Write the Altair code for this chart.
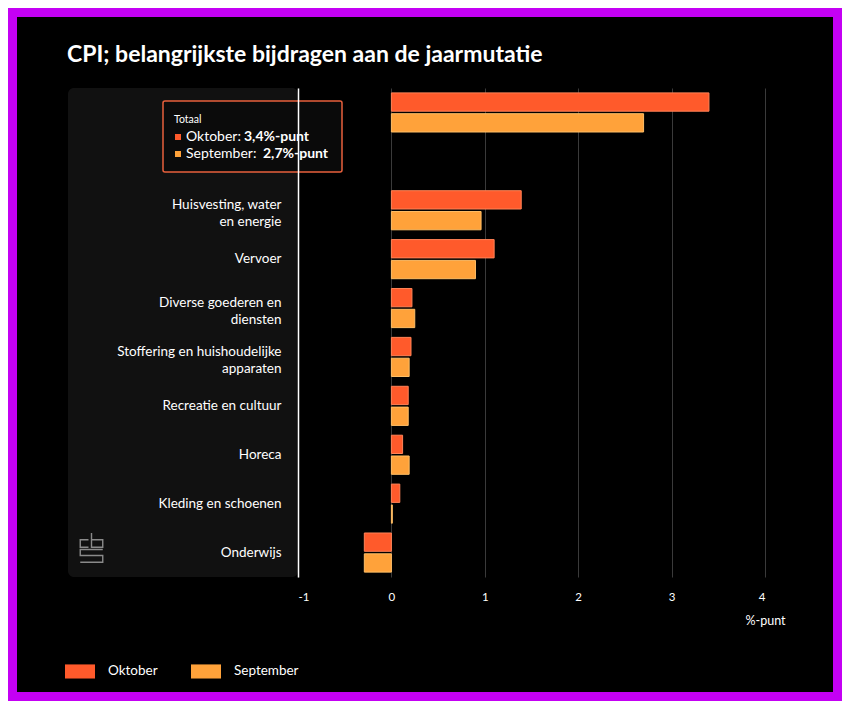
import altair as alt
import pandas as pd

# ---------------- data ----------------
title_text = "CPI; belangrijkste bijdragen aan de jaarmutatie"
categories = ["Totaal", " ", "Huisvesting, water|en energie", "Vervoer",
              "Diverse goederen en|diensten", "Stoffering en huishoudelijke|apparaten",
              "Recreatie en cultuur", "Horeca", "Kleding en schoenen", "Onderwijs"]
series = ["Oktober", "September"]
oktober = [3.4, None, 1.39, 1.1, 0.22, 0.21, 0.18, 0.12, 0.09, -0.29]
september = [2.7, None, 0.96, 0.9, 0.25, 0.19, 0.18, 0.19, 0.01, -0.29]
x_ticks = [-1, 0, 1, 2, 3, 4]
x_title = "%-punt"

# ---------------- style ----------------
FONT = "Lato"
colors = ["#FF5A2B", "#FFA23A"]
strokes = ["#FF8357", "#FFBE66"]
PURPLE = "#C400F4"
W, H = 467, 489

rows = []
for c, o, s in zip(categories, oktober, september):
    if o is not None:
        rows.append({"categorie": c, "reeks": series[0], "waarde": o})
    if s is not None:
        rows.append({"categorie": c, "reeks": series[1], "waarde": s})
df = pd.DataFrame(rows)

one = alt.Data(values=[{"k": 1}])

# frame & panels (decoration)
frame = alt.Chart(one).mark_rect(fillOpacity=0, stroke=PURPLE, strokeWidth=18).encode(
    x=alt.value(-290), x2=alt.value(544), y=alt.value(-80), y2=alt.value(613))
panel = alt.Chart(one).mark_rect(fill="#111111", cornerRadius=6).encode(
    x=alt.value(-230), x2=alt.value(0), y=alt.value(0), y2=alt.value(H))
title = alt.Chart(one).mark_text(text=title_text, align="left", baseline="alphabetic",
                                 font=FONT, fontSize=23, fontWeight="bold", color="white").encode(
    x=alt.value(-231), y=alt.value(-26))
logo_path = ("M-0.2,-0.55H-0.75V-0.05H-0.2 M0,-1V-0.05H0.75V-0.55H0 "
             "M0.75,0.1H-0.75V0.5H0.75V0.95H-0.75")
logo = alt.Chart(one).mark_point(shape=logo_path, filled=False, stroke="#8a8a8a",
                                 strokeWidth=1.4, size=900, opacity=1).encode(
    x=alt.value(-206.5), y=alt.value(460))

bars = alt.Chart(df).mark_bar(strokeWidth=1).encode(
    x=alt.X("waarde:Q", scale=alt.Scale(domain=[-1, 4], nice=False),
            axis=alt.Axis(values=x_ticks, title=x_title, grid=True, gridColor="#3a3a3a",
                          domain=False, ticks=False, tickSize=0, labelPadding=14,
                          labelColor="white", labelFont=FONT, labelFontSize=11.5,
                          labelExpr="datum.value", titleX=W, titleY=43, titleAlign="center",
                          titleBaseline="middle", titleColor="white", titleFont=FONT,
                          titleFontSize=12.5, titleFontWeight="normal", zindex=0)),
    y=alt.Y("categorie:N", scale=alt.Scale(domain=categories, paddingInner=0.2, paddingOuter=0.1),
            axis=alt.Axis(title=None, domain=True, domainColor="white", domainWidth=1.5,
                          ticks=False, tickSize=0, grid=False, labelPadding=17,
                          labelColor="white", labelFont=FONT, labelFontSize=13.5,
                          labelLineHeight=17, labelLimit=300,
                          labelOffset={"condition": {"test": "indexof(datum.value, '|') >= 0",
                                                     "value": -5}, "value": 0},
                          labelExpr="datum.label == 'Totaal' ? '' : split(datum.label, '|')",
                          zindex=1)),
    yOffset=alt.YOffset("reeks:N", sort=series, scale=alt.Scale(domain=series, paddingInner=0.12)),
    color=alt.Color("reeks:N", scale=alt.Scale(domain=series, range=colors),
                    legend=alt.Legend(title=None, orient="none", legendX=-233, legendY=568,
                                      direction="horizontal",
                                      symbolType="M-1,-0.47H1V0.47H-1Z", symbolSize=900,
                                      symbolStrokeWidth=0, symbolOpacity=1,
                                      labelOffset=13, columnPadding=33,
                                      labelFont=FONT, labelFontSize=13.5, labelColor="white")),
    stroke=alt.Stroke("reeks:N", scale=alt.Scale(domain=series, range=strokes), legend=None),
)

# static tooltip box over 'Totaal'
box = alt.Chart(one).mark_rect(fill="#0b0b0b", fillOpacity=0.93, stroke="#E8603C",
                               strokeWidth=1.5, cornerRadius=2).encode(
    x=alt.value(-135), x2=alt.value(44), y=alt.value(13), y2=alt.value(84))
head = alt.Chart(df).transform_filter(
    (alt.datum.categorie == categories[0]) & (alt.datum.reeks == series[0])
).mark_text(align="left", baseline="middle", font=FONT, fontSize=10.5, color="white").encode(
    text="categorie:N", x=alt.value(-124), y=alt.value(32))

tip_layers = []
row_y = [49, 66]
val_x = [-54, -35]
for i, s in enumerate(series):
    base = alt.Chart(df).transform_filter(
        (alt.datum.categorie == categories[0]) & (alt.datum.reeks == s))
    tip_layers.append(base.mark_square(size=36, color=colors[i], opacity=1).encode(
        x=alt.value(-120), y=alt.value(row_y[i])))
    tip_layers.append(base.transform_calculate(lbl="datum.reeks + ':'").mark_text(
        align="left", baseline="middle", font=FONT, fontSize=14, color="white").encode(
        text="lbl:N", x=alt.value(-112), y=alt.value(row_y[i])))
    tip_layers.append(base.transform_calculate(
        val="replace(format(datum.waarde, '.1f'), '.', ',') + '%-punt'").mark_text(
        align="left", baseline="middle", font=FONT, fontSize=14, fontWeight="bold",
        color="white").encode(text="val:N", x=alt.value(val_x[i]), y=alt.value(row_y[i])))

chart = alt.layer(panel, logo, bars, box, head, *tip_layers, title, frame).properties(
    width=W, height=H,
    autosize=alt.AutoSizeParams(type="none"),
    padding={"left": 290, "top": 80, "right": 77, "bottom": 124},
    background="#000000",
).configure_view(stroke=None)

chart.save("out.html", embed_options={"renderer": "svg", "actions": False})
